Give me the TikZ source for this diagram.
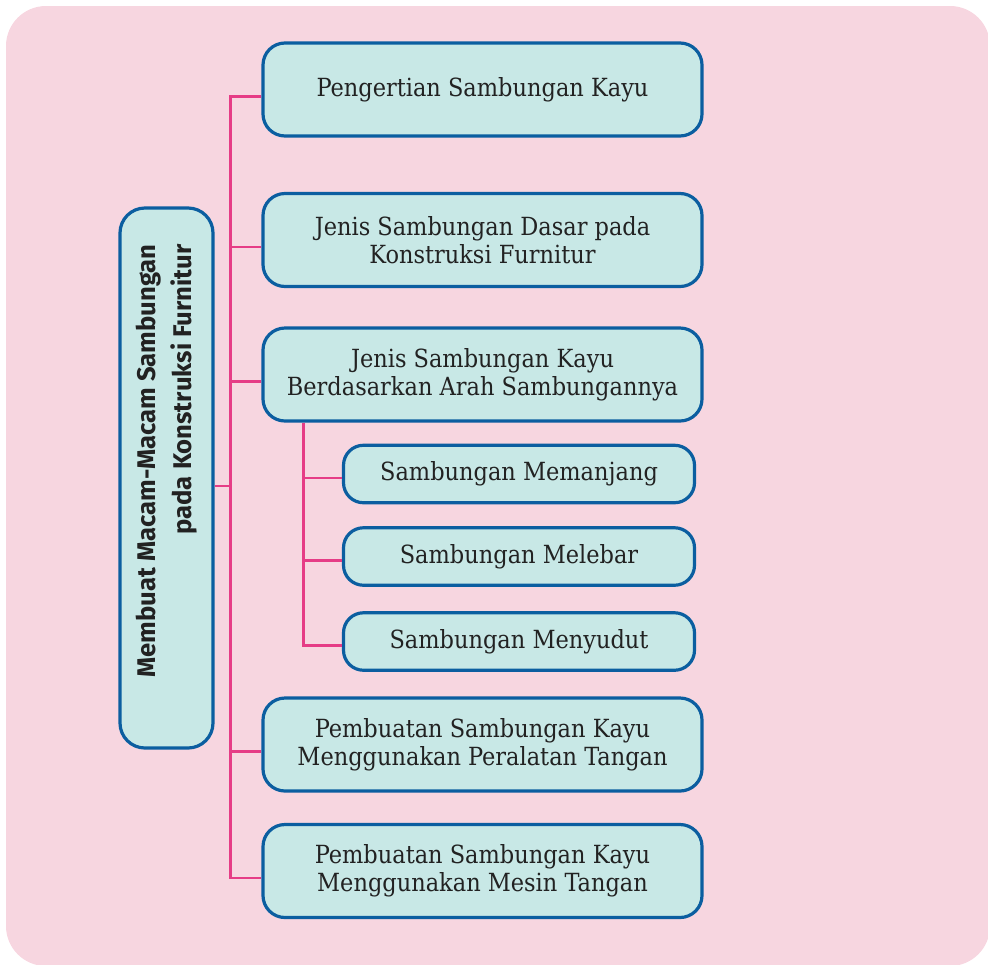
\documentclass[tikz,border=0pt]{standalone}
\usepackage{fontspec}
\setmainfont{DejaVu Serif Condensed}
\setsansfont{Fira Sans}

\definecolor{bgpink}{HTML}{F7D6E0}
\definecolor{boxfill}{HTML}{C8E8E6}
\definecolor{boxline}{HTML}{0B5EA0}
\definecolor{linkpink}{HTML}{E63C86}
\definecolor{ink}{HTML}{222222}

\begin{document}
\begin{tikzpicture}[
  x=0.5pt, y=-0.5pt,
  topic/.style={draw=boxline, fill=boxfill, line width=1.6pt, rounded corners=11pt, minimum width=219.5pt, minimum height=46.5pt, align=center, text=ink, font=\fontsize{12.5}{14}\selectfont},
  subtopic/.style={topic, minimum width=175.5pt, minimum height=28.75pt, rounded corners=10pt},
  link/.style={draw=linkpink, line width=1.2pt}
]
  \useasboundingbox (0,0) rectangle (988,964);
  \fill[bgpink, rounded corners=20pt] (6,6) rectangle (990,966);

  \node[topic, minimum width=46.5pt, minimum height=270pt, rounded corners=12.5pt] (main) at (166.5,478) {};
  \node[rotate=90, align=right, text=ink, font=\sffamily\bfseries\fontsize{12.8}{18.3}\selectfont] (title) at (166.5,461) {Membuat Macam-Macam Sambungan\\pada Konstruksi Furnitur};

  \node[topic] (box1) at (482.5,89.5) {Pengertian Sambungan Kayu};
  \node[topic] (box2) at (482.5,240) {Jenis Sambungan Dasar pada\\Konstruksi Furnitur};
  \node[topic] (box3) at (482.5,374.5) {Jenis Sambungan Kayu\\Berdasarkan Arah Sambungannya};
  \node[subtopic] (sub1) at (519,474) {Sambungan Memanjang};
  \node[subtopic] (sub2) at (519,556.5) {Sambungan Melebar};
  \node[subtopic] (sub3) at (519,641.5) {Sambungan Menyudut};
  \node[topic] (box4) at (482.5,744.5) {Pembuatan Sambungan Kayu\\Menggunakan Peralatan Tangan};
  \node[topic] (box5) at (482.5,871) {Pembuatan Sambungan Kayu\\Menggunakan Mesin Tangan};

  \draw[link] ([yshift=-4pt]main.east) -- ++(8pt,0) coordinate (trunk);
  \draw[link] ([yshift=-3.5pt]box1.west) -| (trunk) |- ([yshift=-3.5pt]box5.west);
  \foreach \b in {box2,box3,box4}
    \draw[link] ([yshift=-3.5pt]\b.west) -- ([yshift=-3.5pt]\b.west -| trunk);

  \coordinate (subtrunk) at ([xshift=21pt]box3.south west);
  \draw[link] (subtrunk) |- ([yshift=-2pt]sub3.west);
  \foreach \b in {sub1,sub2}
    \draw[link] ([yshift=-2pt]\b.west) -- ([yshift=-2pt]\b.west -| subtrunk);
\end{tikzpicture}
\end{document}
